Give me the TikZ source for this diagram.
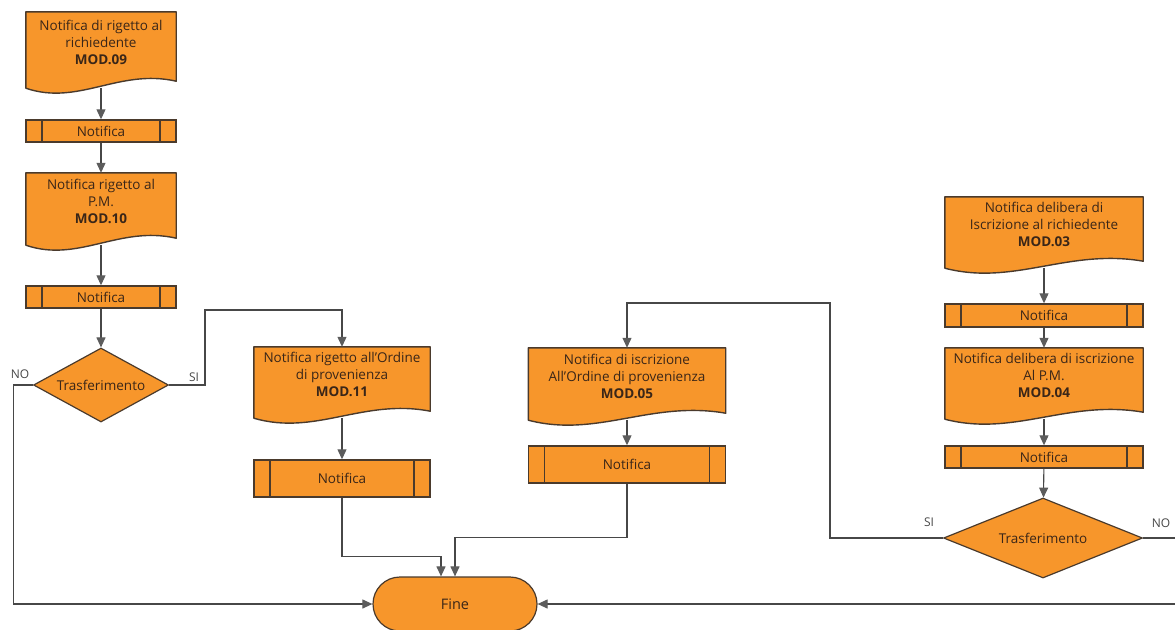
\documentclass[tikz,border=0pt]{standalone}
\usepackage{fontspec}
\setmainfont{Open Sans}
\usetikzlibrary{arrows.meta,shapes.geometric,backgrounds,calc}

\definecolor{boxfill}{HTML}{F7962B}
\definecolor{boxline}{HTML}{4A3A2C}
\definecolor{txt}{HTML}{3A2618}
\definecolor{wire}{HTML}{474747}
\definecolor{tip}{HTML}{5C5C5C}

% document symbol: rectangle with a wavy lower edge, drawn behind the node
\newcommand{\docwave}[1]{%
  \filldraw[fill=boxfill, draw=boxline, line width=1.4pt, line join=round]
    (#1.south west) -- (#1.north west) -- (#1.north east) -- ($(#1.south east)+(0,-7)$)
    .. controls ($(#1.south west)!0.62!(#1.south east)+(0,-20)$)
            and ($(#1.south west)!0.35!(#1.south east)+(0,18)$) .. (#1.south west) -- cycle;}

\tikzset{
  every node/.style={text=txt, font=\fontsize{13.5}{17}\selectfont},
  docbox/.style={rectangle, inner sep=0pt},
  doctext/.style={align=center, yshift=8pt},
  procbox/.style={rectangle, draw=boxline, fill=boxfill, line width=1.4pt, inner sep=0pt,
    path picture={\draw[boxline, line width=1.4pt]
      ([xshift=16pt]path picture bounding box.north west) -- ([xshift=16pt]path picture bounding box.south west)
      ([xshift=-16pt]path picture bounding box.north east) -- ([xshift=-16pt]path picture bounding box.south east);}},
  decision/.style={diamond, draw=boxline, fill=boxfill, line width=1.2pt, inner sep=0pt,
    label={[font=\fontsize{13.5}{16}\selectfont]center:#1}},
  terminal/.style={rectangle, rounded corners=27pt, draw=boxline, fill=boxfill, line width=1.2pt,
    font=\fontsize{14.5}{17}\selectfont},
  conn/.style={draw=wire, line width=1.1pt},
  arr/.style={conn, -{Triangle[length=10pt, width=9pt, color=tip]}},
  branch/.style={text=wire, font=\fontsize{12}{14}\selectfont},
}

\begin{document}
\begin{tikzpicture}[x=1pt, y=-1pt]
\useasboundingbox (0,0) rectangle (1175,629);

% ---- left column
\node[docbox, minimum width=150pt, minimum height=76pt,
  label={[doctext]center:{Notifica di rigetto al\\richiedente\\\textbf{MOD.09}}}] (d09) at (101,50) {};
\node[procbox, minimum width=150pt, minimum height=22pt] (n1) at (101,131) {Notifica};
\node[docbox, minimum width=150pt, minimum height=72pt,
  label={[doctext]center:{Notifica rigetto al\\P.M.\\\textbf{MOD.10}}}] (d10) at (101,209) {};
\node[procbox, minimum width=150pt, minimum height=22pt] (n2) at (101,297) {Notifica};
\node[decision=Trasferimento, minimum width=135pt, minimum height=74pt] (t1) at (101,385) {};

% ---- middle documents
\node[docbox, minimum width=176pt, minimum height=71pt,
  label={[doctext]center:{Notifica rigetto all'Ordine\\di provenienza\\\textbf{MOD.11}}}] (d11) at (342,382.5) {};
\node[procbox, minimum width=176pt, minimum height=37pt] (n3) at (342,478.5) {Notifica};
\node[docbox, minimum width=197pt, minimum height=72pt,
  label={[doctext]center:{Notifica di iscrizione\\All'Ordine di provenienza\\\textbf{MOD.05}}}] (d05) at (627,384) {};
\node[procbox, minimum width=197pt, minimum height=37pt] (n5) at (627,464.5) {Notifica};

% ---- right column
\node[docbox, minimum width=198pt, minimum height=71pt,
  label={[doctext]center:{Notifica delibera di\\Iscrizione al richiedente\\\textbf{MOD.03}}}] (d03) at (1044,232.5) {};
\node[procbox, minimum width=198pt, minimum height=23pt] (n6) at (1044,315.5) {Notifica};
\node[docbox, minimum width=198pt, minimum height=71pt,
  label={[doctext]center:{Notifica delibera di iscrizione\\Al P.M.\\\textbf{MOD.04}}}] (d04) at (1044,383.5) {};
\node[procbox, minimum width=198pt, minimum height=22pt] (n7) at (1044,457) {Notifica};
\node[decision=Trasferimento, minimum width=199pt, minimum height=80pt] (t2) at (1043,538) {};

% ---- end
\node[terminal, minimum width=164pt, minimum height=54pt] (fine) at (455,604) {Fine};

% document outlines behind their texts
\begin{scope}[on background layer]
  \docwave{d09} \docwave{d10} \docwave{d11} \docwave{d05} \docwave{d03} \docwave{d04}
\end{scope}

% bend points of the long connectors
\coordinate (k1) at (205,310);
\coordinate (k2) at (830,303);

% ---- connectors
\draw[arr] (d09) -- (n1);
\draw[arr] (n1) -- (d10);
\draw[arr] (d10) -- (n2);
\draw[arr] (n2) -- (t1);
\draw[arr] (t1.west) -- ++(-19,0) |- (fine.west);
\draw[arr] (t1.east) -| (k1) -| (d11.north);
\draw[arr] (d11) -- (n3);
\draw[arr] (n3.south) -- ++(0,58.5) -| ([xshift=-14pt]fine.north);
\draw[arr] (d05) -- (n5);
\draw[arr] (n5.south) -- ++(0,54) -| (fine.north);
\draw[arr] (t2.west) -| (k2) -| (d05.north);
\draw[arr] (d03) -- (n6);
\draw[arr] (n6) -- (d04);
\draw[arr] (d04) -- (n7);
\draw[arr] (n7) -- (t2);
\draw[arr] (t2.east) -- ++(50,0) |- (fine.east);

% ---- branch labels
\node[branch] (no1) at (20,374) {NO};
\node[branch] (si1) at (194,377) {SI};
\node[branch] (si2) at (929,522) {SI};
\node[branch] (no2) at (1161,523) {NO};
\end{tikzpicture}
\end{document}
